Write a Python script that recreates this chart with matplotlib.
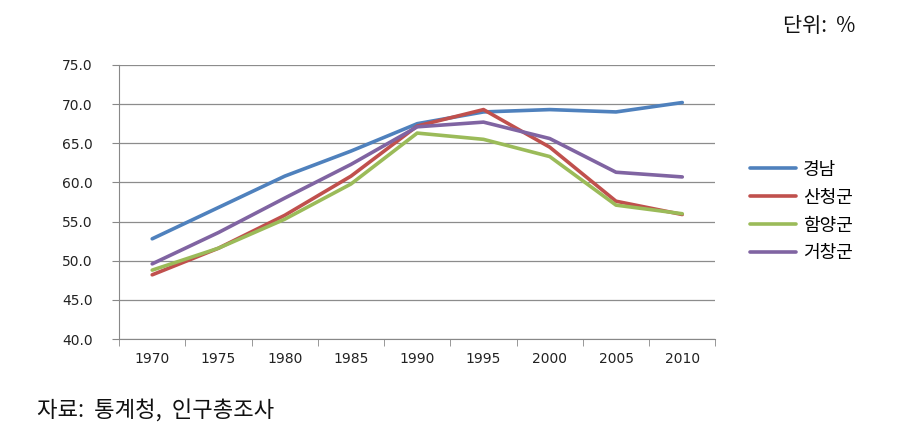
import matplotlib.pyplot as plt
import numpy as np

plt.rcParams['font.family'] = ['Noto Sans CJK KR', 'DejaVu Sans']

years = ['1970', '1975', '1980', '1985', '1990', '1995', '2000', '2005', '2010']
gyeongnam = [52.8, 56.8, 60.8, 64.0, 67.5, 69.0, 69.3, 69.0, 70.2]
sancheong = [48.2, 51.6, 55.8, 60.8, 67.2, 69.3, 64.5, 57.6, 55.9]
hamyang = [48.8, 51.6, 55.3, 59.8, 66.3, 65.5, 63.3, 57.1, 56.0]
geochang = [49.6, 53.6, 58.0, 62.3, 67.1, 67.7, 65.6, 61.3, 60.7]

series = [('경남', gyeongnam, '#4F81BD'),
          ('산청군', sancheong, '#C0504D'),
          ('함양군', hamyang, '#9BBB59'),
          ('거창군', geochang, '#8064A2')]

fig = plt.figure(figsize=(9.16, 4.33), dpi=100)
ax = fig.add_axes([0.130, 0.217, 0.651, 0.633])

x = np.arange(len(years))
for name, vals, col in series:
    ax.plot(x, vals, color=col, lw=2.6, label=name, solid_capstyle='round')

ax.set_xlim(-0.5, len(years) - 0.5)
ax.set_ylim(40, 75)
ax.set_yticks(np.arange(40, 76, 5))
ax.set_yticklabels([f'{v:.1f}' for v in np.arange(40, 76, 5)],
                   family='DejaVu Sans', fontsize=10, color='#222222')
ax.set_xticks(x)
ax.set_xticklabels(years, family='DejaVu Sans', fontsize=10, color='#222222')
ax.set_xticks(np.arange(-0.5, len(years)), minor=True)
ax.tick_params(axis='x', which='major', length=0, pad=9)
ax.tick_params(axis='x', which='minor', length=5, color='#888888', direction='out')
ax.tick_params(axis='y', length=5, color='#888888', pad=14)

ax.grid(axis='y', color='#8c8c8c', lw=0.9)
ax.set_axisbelow(True)
for s in ['top', 'right']:
    ax.spines[s].set_visible(False)
for s in ['left', 'bottom']:
    ax.spines[s].set_color('#888888')

leg = ax.legend(loc='center left', bbox_to_anchor=(1.03, 0.465), frameon=False,
                fontsize=13, handlelength=2.6, handletextpad=0.35, labelspacing=0.55)

fig.text(0.934, 0.94, '단위:  %', ha='right', va='center', fontsize=15, color='#111111')
fig.text(0.04, 0.05, '자료:  통계청,  인구총조사', ha='left', va='center', fontsize=16, color='#111111')

fig.savefig('out.png', dpi=100)
